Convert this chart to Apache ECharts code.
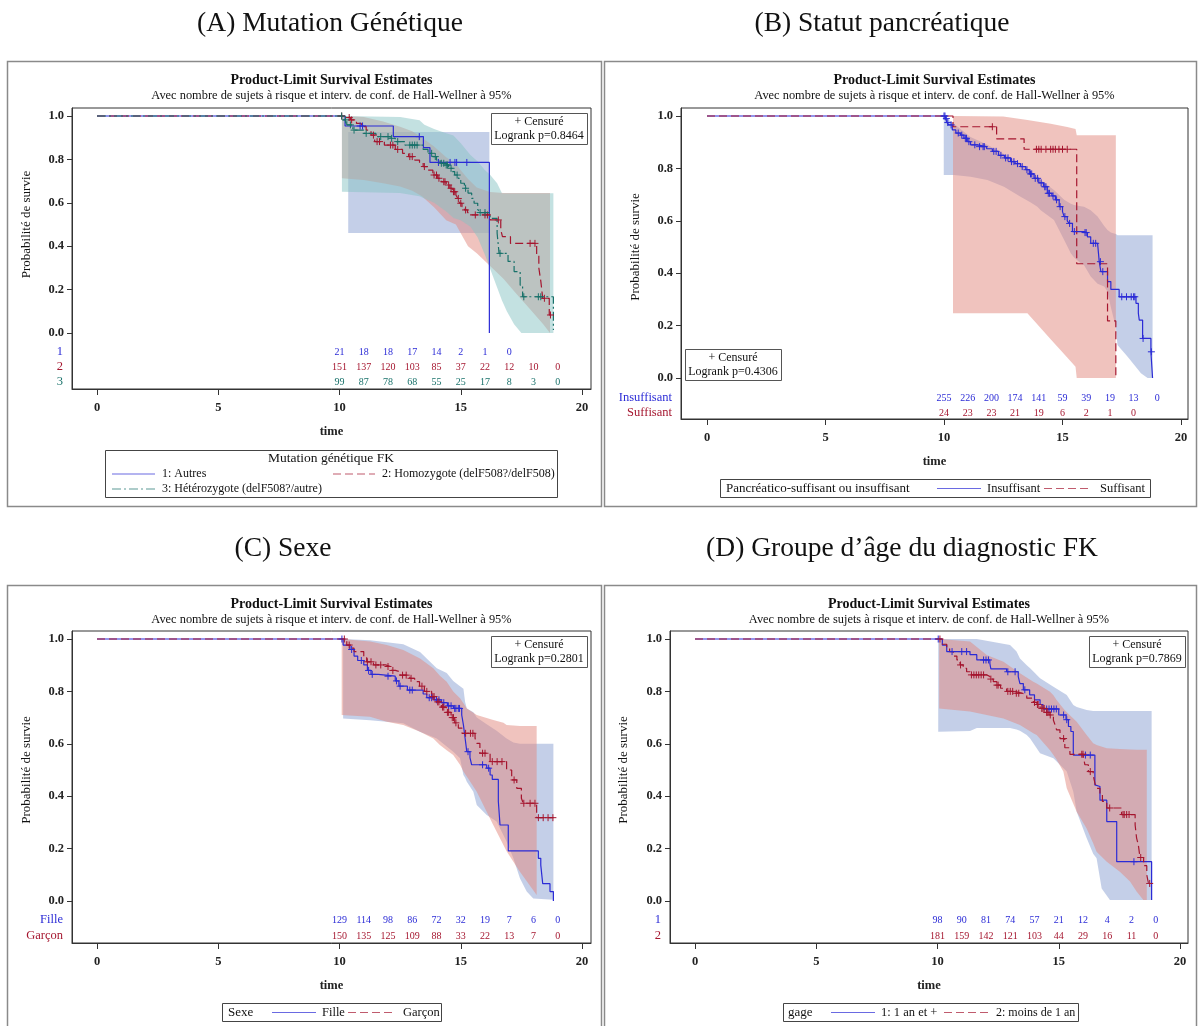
<!DOCTYPE html>
<html>
<head>
<meta charset="utf-8">
<script src="https://cdn.jsdelivr.net/npm/echarts@6/dist/echarts.min.js"></script>
<style>
  html, body { margin: 0; padding: 0; background: #ffffff; }
  #chart { width: 1198px; height: 1026px; }
</style>
</head>
<body>
<div id="chart"></div>
<script>
// ---------------------------------------------------------------------------
// Kaplan-Meier estimates, Hall-Wellner bands, censored times, numbers at risk
// curve points: [time, survival]  (value holds from time until the next point)
// band points:  [time, lower, upper]
// ---------------------------------------------------------------------------
const riskTimes = [10, 11, 12, 13, 14, 15, 16, 17, 18, 19];
const xTicks = [0, 5, 10, 15, 20];
const yTicks = [0, 0.2, 0.4, 0.6, 0.8, 1.0];

// (A) Mutation génétique FK
const kmAutres = [[0,1],[10.23,0.954],[12.22,0.905],[13.46,0.854],[13.73,0.786],[16.18,0]];
const kmHomozygote = [[0,1],[10.3,0.993],[10.45,0.982],[10.7,0.966],[10.9,0.951],[11.1,0.935],[11.3,0.912],[11.45,0.882],[11.85,0.866],[12.3,0.846],[12.6,0.828],[12.85,0.813],[13.1,0.797],[13.3,0.786],[13.45,0.767],[13.65,0.751],[13.85,0.728],[14.05,0.713],[14.2,0.697],[14.4,0.682],[14.55,0.667],[14.65,0.651],[14.8,0.636],[14.88,0.62],[14.95,0.598],[15.05,0.582],[15.15,0.567],[15.28,0.555],[15.38,0.544],[16.21,0.521],[16.65,0.475],[16.72,0.444],[17.05,0.413],[18.13,0.36],[18.22,0.30],[18.3,0.24],[18.38,0.16],[18.65,0.083],[18.82,0.083]];
const kmHeterozygote = [[0,1],[10.15,0.982],[10.3,0.959],[10.55,0.935],[11.0,0.92],[11.5,0.905],[12.05,0.897],[12.3,0.882],[12.7,0.866],[13.45,0.846],[13.65,0.828],[13.85,0.813],[14.0,0.797],[14.15,0.782],[14.35,0.774],[14.5,0.759],[14.65,0.744],[14.75,0.728],[14.9,0.713],[15.0,0.69],[15.15,0.667],[15.3,0.645],[15.45,0.62],[15.55,0.598],[15.7,0.57],[15.78,0.555],[16.21,0.528],[16.5,0.46],[16.58,0.367],[16.95,0.33],[17.2,0.283],[17.45,0.22],[17.55,0.167],[18.82,0.014]];
const bandAutres = [[10.36,0.461,0.926],[16.18,0.461,0.926]];
const bandHomozygote = [[10.1,0.713,1.0],[11.0,0.705,0.995],[11.8,0.69,0.975],[12.5,0.675,0.95],[13.0,0.655,0.93],[13.4,0.63,0.90],[13.9,0.58,0.86],[14.4,0.52,0.81],[14.8,0.50,0.78],[15.0,0.46,0.75],[15.3,0.40,0.71],[15.66,0.367,0.67],[16.2,0.31,0.65],[16.76,0.25,0.645],[17.3,0.18,0.645],[17.86,0.11,0.645],[18.4,0.04,0.645],[18.68,0.0,0.645]];
const bandHeterozygote = [[10.1,0.651,1.0],[12.5,0.645,0.995],[13.3,0.63,0.98],[13.5,0.62,0.96],[13.9,0.60,0.94],[14.4,0.56,0.92],[14.7,0.53,0.91],[15.0,0.52,0.875],[15.4,0.49,0.82],[15.7,0.44,0.79],[16.0,0.36,0.75],[16.2,0.30,0.73],[16.5,0.21,0.69],[16.7,0.15,0.644],[16.9,0.10,0.644],[17.2,0.04,0.644],[17.5,0.0,0.644],[18.82,0.0,0.644]];
const censAutres = [10.85, 10.95, 13.29, 14.08, 14.56, 14.76, 14.83, 15.25];
const censHomozygote = [10.09, 10.4, 10.5, 11.4, 11.55, 11.65, 12.1, 12.2, 12.4, 12.9, 13.0, 13.5, 13.9, 14.0, 14.1, 14.3, 14.35, 14.5, 14.6, 14.7, 14.75, 14.9, 15.0, 15.2, 15.6, 16.0, 16.1, 16.55, 17.86, 18.06, 18.45, 18.7];
const censHeterozygote = [10.09, 10.25, 10.45, 10.6, 11.1, 11.7, 12.0, 12.15, 12.4, 12.9, 13.0, 13.1, 13.2, 13.8, 13.95, 14.2, 14.3, 14.4, 14.45, 14.6, 14.85, 15.2, 15.8, 16.0, 16.62, 17.6, 18.2, 18.3];
const riskAutres = [21, 18, 18, 17, 14, 2, 1, 0];
const riskHomozygote = [151, 137, 120, 103, 85, 37, 22, 12, 10, 0];
const riskHeterozygote = [99, 87, 78, 68, 55, 25, 17, 8, 3, 0];

// (B) Pancréatico-suffisant ou insuffisant
const kmInsuffisant = [[0,1],[10.06,0.99],[10.13,0.975],[10.2,0.966],[10.35,0.947],[10.5,0.935],[10.7,0.927],[10.84,0.915],[11.0,0.902],[11.12,0.89],[11.4,0.883],[11.8,0.875],[12.04,0.865],[12.3,0.85],[12.55,0.84],[12.81,0.826],[13.0,0.818],[13.23,0.807],[13.45,0.795],[13.6,0.779],[13.8,0.762],[14.0,0.745],[14.2,0.73],[14.36,0.705],[14.55,0.695],[14.7,0.68],[14.86,0.654],[15.0,0.635],[15.07,0.616],[15.2,0.6],[15.28,0.59],[15.42,0.559],[15.91,0.555],[16.05,0.539],[16.19,0.514],[16.48,0.508],[16.55,0.444],[16.62,0.406],[16.9,0.368],[17.04,0.338],[17.39,0.31],[18.1,0.285],[18.2,0.247],[18.24,0.221],[18.38,0.151],[18.73,0.1],[18.8,0]];
const kmSuffisant = [[0,1],[10.38,0.959],[12.22,0.913],[13.38,0.873],[15.6,0.436],[16.9,0.218],[17.25,0]];
const bandInsuffisant = [[9.99,0.775,1.0],[10.42,0.775,0.97],[11.12,0.768,0.92],[11.83,0.756,0.89],[12.53,0.73,0.855],[13.23,0.692,0.82],[13.66,0.67,0.788],[13.94,0.654,0.77],[14.08,0.64,0.756],[14.64,0.603,0.718],[15.07,0.527,0.68],[15.35,0.476,0.665],[15.49,0.46,0.66],[15.77,0.438,0.656],[15.91,0.43,0.654],[16.19,0.387,0.64],[16.48,0.36,0.616],[16.76,0.349,0.58],[16.9,0.33,0.565],[17.04,0.27,0.555],[17.25,0.195,0.55],[17.32,0.126,0.545],[17.74,0.082,0.545],[18.03,0.05,0.545],[18.31,0.018,0.545],[18.59,0.0,0.545],[18.8,0.0,0.545]];
const bandSuffisant = [[10.38,0.247,1.0],[12.5,0.247,0.998],[13.52,0.247,0.985],[14.5,0.148,0.97],[15.2,0.078,0.958],[15.55,0.043,0.95],[15.6,0.0,0.927],[17.25,0.0,0.927]];
const censInsuffisant = [10.0, 10.04, 10.1, 10.16, 10.3, 10.6, 10.75, 10.9, 10.95, 11.05, 11.3, 11.5, 11.65, 11.7, 12.1, 12.2, 12.4, 12.6, 12.7, 12.85, 12.95, 13.1, 13.3, 13.5, 13.65, 13.7, 13.85, 13.95, 14.1, 14.25, 14.3, 14.4, 14.45, 14.6, 14.75, 14.9, 15.1, 15.3, 15.5, 15.95, 16.0, 16.3, 16.4, 16.6, 16.7, 17.5, 17.7, 17.9, 18.0, 18.05, 18.4, 18.75];
const censSuffisant = [12.04, 13.9, 14.0, 14.1, 14.3, 14.5, 14.6, 14.7, 14.85, 15.0, 15.2];
const riskInsuffisant = [255, 226, 200, 174, 141, 59, 39, 19, 13, 0];
const riskSuffisant = [24, 23, 23, 21, 19, 6, 2, 1, 0];

// (C) Sexe
const kmFille = [[0,1],[10.15,0.977],[10.43,0.96],[10.6,0.935],[10.75,0.918],[11.0,0.901],[11.15,0.88],[11.3,0.865],[11.6,0.858],[12.3,0.84],[12.45,0.82],[12.8,0.805],[13.45,0.79],[13.6,0.776],[13.9,0.768],[14.2,0.757],[14.45,0.745],[14.7,0.735],[15.04,0.71],[15.11,0.672],[15.18,0.621],[15.25,0.57],[15.38,0.547],[15.45,0.52],[16.07,0.507],[16.21,0.481],[16.3,0.464],[16.55,0.38],[16.62,0.29],[16.96,0.191],[18.2,0.163],[18.3,0.137],[18.38,0.066],[18.68,0.036],[18.82,0]];
const kmGarcon = [[0,1],[10.3,0.977],[10.5,0.965],[10.6,0.952],[11.0,0.93],[11.12,0.913],[11.4,0.901],[11.9,0.895],[12.1,0.88],[12.3,0.875],[12.5,0.862],[12.9,0.85],[13.1,0.837],[13.3,0.82],[13.5,0.80],[13.8,0.78],[14.0,0.76],[14.2,0.74],[14.4,0.72],[14.6,0.70],[14.75,0.68],[14.9,0.66],[15.05,0.64],[15.59,0.621],[15.66,0.602],[15.79,0.564],[16.21,0.532],[16.89,0.50],[17.1,0.462],[17.31,0.43],[17.5,0.392],[17.58,0.373],[18.13,0.318],[18.82,0.318]];
const bandFille = [[10.15,0.697,1.0],[11.26,0.69,0.995],[12.63,0.678,0.98],[13.32,0.646,0.95],[14.01,0.62,0.888],[14.42,0.59,0.87],[14.69,0.57,0.84],[14.97,0.545,0.82],[15.11,0.481,0.81],[15.18,0.47,0.76],[15.25,0.455,0.735],[15.52,0.417,0.72],[15.66,0.366,0.70],[16.07,0.328,0.675],[16.48,0.303,0.65],[16.89,0.227,0.62],[17.17,0.163,0.605],[17.44,0.087,0.60],[17.72,0.036,0.60],[17.99,0.01,0.60],[18.82,0.005,0.60]];
const bandGarcon = [[10.09,0.71,1.0],[11.26,0.703,0.99],[11.95,0.684,0.977],[12.63,0.672,0.958],[13.32,0.646,0.926],[13.87,0.62,0.888],[14.14,0.595,0.86],[14.42,0.575,0.837],[14.69,0.557,0.80],[14.97,0.52,0.774],[15.11,0.494,0.755],[15.25,0.475,0.735],[15.66,0.417,0.71],[16.34,0.29,0.691],[16.76,0.214,0.68],[16.89,0.19,0.672],[17.44,0.112,0.668],[18.13,0.023,0.668]];
const censFille = [10.1, 10.5, 10.9, 11.2, 11.35, 12.0, 12.35, 12.5, 12.9, 13.0, 13.7, 13.8, 14.0, 14.1, 14.3, 14.5, 14.6, 14.75, 14.8, 14.9, 14.95, 15.3, 15.9, 16.15];
const censGarcon = [10.2, 10.4, 11.15, 11.3, 11.5, 11.7, 12.0, 12.2, 12.6, 12.75, 12.95, 13.4, 13.6, 13.85, 13.9, 14.05, 14.1, 14.25, 14.3, 14.45, 14.5, 14.65, 14.7, 14.8, 15.2, 15.4, 15.5, 15.9, 16.0, 16.3, 16.5, 16.7, 17.2, 17.6, 17.86, 18.06, 18.2, 18.4, 18.6, 18.8];
const riskFille = [129, 114, 98, 86, 72, 32, 19, 7, 6, 0];
const riskGarcon = [150, 135, 125, 109, 88, 33, 22, 13, 7, 0];

// (D) gage : âge au diagnostic FK
const kmUnAnEtPlus = [[0,1],[10.2,0.977],[10.38,0.952],[11.34,0.94],[11.62,0.92],[12.16,0.906],[12.2,0.886],[12.85,0.875],[13.33,0.856],[13.4,0.83],[13.54,0.806],[13.8,0.787],[14.0,0.768],[14.23,0.75],[14.35,0.733],[15.0,0.71],[15.3,0.692],[15.4,0.666],[15.5,0.647],[15.6,0.557],[16.49,0.443],[16.56,0.437],[16.7,0.385],[16.98,0.303],[17.39,0.15],[18.83,0.004]];
const kmMoinsUnAn = [[0,1],[10.2,0.98],[10.38,0.966],[10.5,0.952],[10.65,0.935],[10.8,0.92],[10.93,0.901],[11.06,0.888],[11.2,0.875],[11.34,0.863],[12.03,0.857],[12.16,0.847],[12.3,0.837],[12.44,0.824],[12.6,0.812],[12.85,0.80],[13.2,0.793],[13.5,0.786],[13.68,0.774],[13.95,0.758],[14.1,0.75],[14.23,0.735],[14.43,0.72],[14.6,0.71],[14.78,0.69],[14.85,0.672],[14.91,0.653],[15.05,0.62],[15.25,0.585],[15.46,0.56],[16.01,0.552],[16.08,0.52],[16.22,0.494],[16.42,0.48],[16.49,0.45],[16.56,0.43],[16.7,0.405],[16.8,0.38],[16.98,0.355],[17.59,0.33],[18.15,0.29],[18.21,0.24],[18.28,0.215],[18.35,0.166],[18.5,0.135],[18.63,0.1],[18.7,0.067],[18.83,0.067]];
const bandUnAnEtPlus = [[10.03,0.646,1.0],[11.34,0.649,1.0],[11.62,0.66,1.0],[12.99,0.66,0.977],[13.26,0.655,0.952],[13.4,0.65,0.926],[13.68,0.634,0.9],[13.82,0.62,0.888],[14.23,0.564,0.85],[14.78,0.545,0.818],[15.33,0.494,0.786],[15.6,0.417,0.748],[15.74,0.341,0.74],[16.15,0.24,0.729],[16.42,0.18,0.725],[16.56,0.163,0.725],[16.77,0.048,0.725],[17.11,0.004,0.725],[18.83,0.004,0.725]];
const bandMoinsUnAn = [[10.07,0.735,1.0],[11.34,0.723,0.99],[12.03,0.71,0.939],[12.72,0.697,0.913],[13.4,0.672,0.869],[13.95,0.64,0.837],[14.09,0.634,0.83],[14.64,0.575,0.799],[14.78,0.557,0.785],[14.91,0.54,0.767],[15.19,0.494,0.735],[15.33,0.43,0.72],[15.74,0.341,0.684],[16.15,0.277,0.634],[16.42,0.22,0.602],[16.56,0.188,0.595],[16.98,0.15,0.583],[17.52,0.112,0.58],[17.94,0.074,0.578],[18.21,0.036,0.577],[18.49,0.004,0.577],[18.63,0.004,0.577]];
const censUnAnEtPlus = [10.03, 10.6, 11.0, 11.2, 11.9, 12.0, 12.1, 12.9, 13.2, 13.6, 14.5, 14.6, 14.7, 14.8, 14.9, 15.2, 15.33, 16.1, 16.3, 18.1];
const censMoinsUnAn = [10.1, 10.95, 11.4, 11.5, 11.6, 11.7, 11.8, 11.9, 12.2, 12.45, 12.5, 12.9, 13.0, 13.1, 13.25, 13.35, 14.0, 14.12, 14.15, 14.3, 14.35, 14.4, 14.5, 14.55, 14.65, 15.2, 15.95, 16.0, 16.3, 17.1, 17.65, 17.7, 17.8, 17.9, 18.38, 18.75];
const riskUnAnEtPlus = [98, 90, 81, 74, 57, 21, 12, 4, 2, 0];
const riskMoinsUnAn = [181, 159, 142, 121, 103, 44, 29, 16, 11, 0];

// ---------------------------------------------------------------------------
// styles
// ---------------------------------------------------------------------------
const FONT = '"Liberation Serif", "Times New Roman", serif';
const BLUE = '#2b2bd6';
const RED = '#a5162f';
const TEAL = '#18716a';
const FILL_BLUE = 'rgba(138,160,209,0.5)';
const FILL_RED = 'rgba(225,135,125,0.5)';
const FILL_TEAL = 'rgba(135,195,195,0.5)';
const DASH_RED = [8, 4];
const DASH_TEAL = [9, 3, 2, 3];

function survivalAt(curve, t) {
  let s = 1;
  for (const p of curve) { if (p[0] <= t) s = p[1]; }
  return s;
}

// panel layout (pixel frame of each plot box and where t=0/20, S=0/1 fall)
const panels = [
  {
    frame: { left: 72, top: 108, right: 591, bottom: 389 },
    xPx: [97, 582], yPx: [333, 116], rowPx: [352, 367, 382],
    groups: [
      { label: '1', curve: kmAutres, band: bandAutres, cens: censAutres, risk: riskAutres, color: BLUE, dash: 'solid', fill: FILL_BLUE },
      { label: '2', curve: kmHomozygote, band: bandHomozygote, cens: censHomozygote, risk: riskHomozygote, color: RED, dash: DASH_RED, fill: FILL_RED },
      { label: '3', curve: kmHeterozygote, band: bandHeterozygote, cens: censHeterozygote, risk: riskHeterozygote, color: TEAL, dash: DASH_TEAL, fill: FILL_TEAL }
    ]
  },
  {
    frame: { left: 681, top: 108, right: 1188, bottom: 419 },
    xPx: [707, 1181], yPx: [378, 116], rowPx: [398, 413],
    groups: [
      { label: 'Insuffisant', curve: kmInsuffisant, band: bandInsuffisant, cens: censInsuffisant, risk: riskInsuffisant, color: BLUE, dash: 'solid', fill: FILL_BLUE },
      { label: 'Suffisant', curve: kmSuffisant, band: bandSuffisant, cens: censSuffisant, risk: riskSuffisant, color: RED, dash: DASH_RED, fill: FILL_RED }
    ]
  },
  {
    frame: { left: 72, top: 631, right: 591, bottom: 943 },
    xPx: [97, 582], yPx: [901, 639], rowPx: [920, 936],
    groups: [
      { label: 'Fille', curve: kmFille, band: bandFille, cens: censFille, risk: riskFille, color: BLUE, dash: 'solid', fill: FILL_BLUE },
      { label: 'Garçon', curve: kmGarcon, band: bandGarcon, cens: censGarcon, risk: riskGarcon, color: RED, dash: DASH_RED, fill: FILL_RED }
    ]
  },
  {
    frame: { left: 670, top: 631, right: 1188, bottom: 943 },
    xPx: [695, 1180], yPx: [901, 639], rowPx: [920, 936],
    groups: [
      { label: '1', curve: kmUnAnEtPlus, band: bandUnAnEtPlus, cens: censUnAnEtPlus, risk: riskUnAnEtPlus, color: BLUE, dash: 'solid', fill: FILL_BLUE },
      { label: '2', curve: kmMoinsUnAn, band: bandMoinsUnAn, cens: censMoinsUnAn, risk: riskMoinsUnAn, color: RED, dash: DASH_RED, fill: FILL_RED }
    ]
  }
];

const grid = [], xAxis = [], yAxis = [], series = [];

panels.forEach((p, i) => {
  const f = p.frame;
  const sx = (p.xPx[1] - p.xPx[0]) / 20;
  const sy = p.yPx[0] - p.yPx[1];
  const xMin = (f.left - p.xPx[0]) / sx, xMax = (f.right - p.xPx[0]) / sx;
  const yMax = (p.yPx[0] - f.top) / sy, yMin = (p.yPx[0] - f.bottom) / sy;
  const rowVals = p.rowPx.map(r => (p.yPx[0] - r) / sy);

  grid.push({ left: f.left, top: f.top, width: f.right - f.left, height: f.bottom - f.top,
    show: true, borderColor: '#333', borderWidth: 1, backgroundColor: 'transparent' });

  xAxis.push({
    gridIndex: i, type: 'value', min: xMin, max: xMax,
    axisLine: { show: true, onZero: false, lineStyle: { color: '#333', width: 1 } },
    axisTick: { show: true, customValues: xTicks, length: 6, lineStyle: { color: '#333' } },
    axisLabel: { customValues: xTicks, margin: 12, fontFamily: FONT, fontSize: 12.5, fontWeight: 'bold', color: '#222' },
    splitLine: { show: false },
    name: 'time', nameLocation: 'middle', nameGap: 36,
    nameTextStyle: { fontFamily: FONT, fontSize: 12.5, fontWeight: 'bold', color: '#222' }
  });
  yAxis.push({
    gridIndex: i, type: 'value', min: yMin, max: yMax,
    axisLine: { show: true, onZero: false, lineStyle: { color: '#333', width: 1 } },
    axisTick: { show: true, customValues: yTicks, length: 5, lineStyle: { color: '#333' } },
    axisLabel: { customValues: yTicks, margin: 8, fontFamily: FONT, fontSize: 12.5, fontWeight: 'bold', color: '#222',
      formatter: v => Number(v).toFixed(1) },
    splitLine: { show: false }
  });

  // confidence bands
  p.groups.forEach(g => {
    series.push({
      type: 'custom', xAxisIndex: i, yAxisIndex: i, silent: true, z: 1,
      data: [[g.band[0][0], g.band[0][1]]],
      renderItem: (params, api) => {
        const up = g.band.map(b => api.coord([b[0], b[2]]));
        const lo = g.band.slice().reverse().map(b => api.coord([b[0], b[1]]));
        return { type: 'polygon', shape: { points: up.concat(lo) }, style: { fill: g.fill } };
      }
    });
  });

  // survival curves and censored observations
  p.groups.forEach(g => {
    series.push({
      type: 'line', xAxisIndex: i, yAxisIndex: i, data: g.curve, step: 'end', symbol: 'none',
      silent: true, z: 3, lineStyle: { color: g.color, width: 1.2, type: g.dash }
    });
    series.push({
      type: 'custom', xAxisIndex: i, yAxisIndex: i, silent: true, z: 4,
      data: g.cens.map(t => [t, survivalAt(g.curve, t)]),
      renderItem: (params, api) => {
        const c = api.coord([api.value(0), api.value(1)]);
        const h = 3.5;
        return { type: 'group', children: [
          { type: 'line', shape: { x1: c[0] - h, y1: c[1], x2: c[0] + h, y2: c[1] }, style: { stroke: g.color, lineWidth: 1 } },
          { type: 'line', shape: { x1: c[0], y1: c[1] - h, x2: c[0], y2: c[1] + h }, style: { stroke: g.color, lineWidth: 1 } }
        ] };
      }
    });
  });

  // numbers at risk and row labels
  p.groups.forEach((g, gi) => {
    series.push({
      type: 'custom', xAxisIndex: i, yAxisIndex: i, silent: true, z: 5,
      data: g.risk.map((n, k) => [riskTimes[k], rowVals[gi], n]),
      renderItem: (params, api) => {
        const c = api.coord([api.value(0), api.value(1)]);
        return { type: 'text', x: c[0], y: c[1], style: { text: String(api.value(2)), fill: g.color,
          fontSize: 10, fontFamily: FONT, align: 'center', verticalAlign: 'middle' } };
      }
    });
    series.push({
      type: 'custom', xAxisIndex: i, yAxisIndex: i, silent: true, z: 5,
      data: [[xMin, rowVals[gi]]],
      renderItem: (params, api) => {
        const c = api.coord([api.value(0), api.value(1)]);
        return { type: 'text', x: c[0] - 9, y: c[1], style: { text: g.label, fill: g.color,
          fontSize: 12.5, fontFamily: FONT, align: 'right', verticalAlign: 'middle' } };
      }
    });
  });
});

// ---------------------------------------------------------------------------
// titles, frames, legends, inset boxes
// ---------------------------------------------------------------------------
function txt(x, y, text, size, opts) {
  opts = opts || {};
  const al = opts.align || 'center';
  return { type: 'text', x: x, y: y, z: 100, silent: true, rotation: opts.rotation || 0,
    style: { text: text, fontSize: size, fontFamily: FONT, fontWeight: opts.weight || 'normal', fill: opts.color || '#111',
      align: al, verticalAlign: 'middle', textAlign: al, textVerticalAlign: 'middle' } };
}
function box(x, y, w, h, stroke, lw) {
  return { type: 'rect', z: 90, silent: true, shape: { x: x, y: y, width: w, height: h },
    style: { fill: 'none', stroke: stroke, lineWidth: lw || 1 } };
}
function seg(x1, y1, x2, y2, stroke, dash) {
  return { type: 'line', z: 100, silent: true, shape: { x1: x1, y1: y1, x2: x2, y2: y2 },
    style: { stroke: stroke, lineWidth: 1.2, lineDash: dash || null, opacity: 0.7 } };
}

const HEAD = 'Product-Limit Survival Estimates';
const SUB = 'Avec nombre de sujets à risque et interv. de conf. de Hall-Wellner à 95%';
const YT = 'Probabilité de survie';

const graphic = [
  // panel frames
  box(7.5, 61.5, 594, 445, '#8a8a8a', 1.5),
  box(604.5, 61.5, 592, 445, '#8a8a8a', 1.5),
  box(7.5, 585.5, 594, 450, '#8a8a8a', 1.5),
  box(604.5, 585.5, 592, 450, '#8a8a8a', 1.5),

  // panel titles
  txt(330, 24, '(A) Mutation Génétique', 27.5),
  txt(882, 24, '(B) Statut pancréatique', 27.5),
  txt(283, 549, '(C) Sexe', 27.5),
  txt(902, 549, '(D) Groupe d\u2019âge du diagnostic FK', 27.5),

  // plot headers
  txt(331.5, 80, HEAD, 14, { weight: 'bold' }), txt(331.5, 96, SUB, 12.4),
  txt(934.5, 80, HEAD, 14, { weight: 'bold' }), txt(934.5, 96, SUB, 12.4),
  txt(331.5, 604, HEAD, 14, { weight: 'bold' }), txt(331.5, 620, SUB, 12.4),
  txt(929, 604, HEAD, 14, { weight: 'bold' }), txt(929, 620, SUB, 12.4),

  // y axis titles
  txt(27, 224.5, YT, 13, { rotation: Math.PI / 2 }),
  txt(636, 247, YT, 13, { rotation: Math.PI / 2 }),
  txt(27, 770, YT, 13, { rotation: Math.PI / 2 }),
  txt(624, 770, YT, 13, { rotation: Math.PI / 2 }),

  // inset boxes
  box(491.5, 113.5, 96, 31, '#555'), txt(539, 121.5, '+ Censuré', 12), txt(539, 136, 'Logrank p=0.8464', 12),
  box(685.5, 349.5, 96, 31, '#555'), txt(733, 357.5, '+ Censuré', 12), txt(733, 372, 'Logrank p=0.4306', 12),
  box(491.5, 636.5, 96, 31, '#555'), txt(539, 644.5, '+ Censuré', 12), txt(539, 659, 'Logrank p=0.2801', 12),
  box(1089.5, 636.5, 96, 31, '#555'), txt(1137, 644.5, '+ Censuré', 12), txt(1137, 659, 'Logrank p=0.7869', 12),

  // legend (A)
  box(105.5, 450.5, 452, 47, '#444'),
  txt(331, 458.5, 'Mutation génétique FK', 13.5),
  seg(112, 474, 155, 474, BLUE), txt(162, 474, '1: Autres', 12, { align: 'left' }),
  seg(333, 474, 375, 474, RED, DASH_RED), txt(382, 474, '2: Homozygote (delF508?/delF508)', 12, { align: 'left' }),
  seg(112, 489, 155, 489, TEAL, DASH_TEAL), txt(162, 489, '3: Hétérozygote (delF508?/autre)', 12, { align: 'left' }),

  // legend (B)
  box(720.5, 479.5, 430, 18, '#444'),
  txt(726, 488.5, 'Pancréatico-suffisant ou insuffisant', 13, { align: 'left' }),
  seg(937, 488.5, 981, 488.5, BLUE), txt(987, 488.5, 'Insuffisant', 12.5, { align: 'left' }),
  seg(1044, 488.5, 1092, 488.5, RED, DASH_RED), txt(1100, 488.5, 'Suffisant', 12.5, { align: 'left' }),

  // legend (C)
  box(222.5, 1003.5, 219, 18, '#444'),
  txt(228, 1012.5, 'Sexe', 13, { align: 'left' }),
  seg(272, 1012.5, 316, 1012.5, BLUE), txt(322, 1012.5, 'Fille', 12.5, { align: 'left' }),
  seg(348, 1012.5, 394, 1012.5, RED, DASH_RED), txt(403, 1012.5, 'Garçon', 12.5, { align: 'left' }),

  // legend (D)
  box(783.5, 1003.5, 295, 18, '#444'),
  txt(788, 1012.5, 'gage', 13, { align: 'left' }),
  seg(831, 1012.5, 875, 1012.5, BLUE), txt(881, 1012.5, '1: 1 an et +', 12.5, { align: 'left' }),
  seg(944, 1012.5, 990, 1012.5, RED, DASH_RED), txt(996, 1012.5, '2: moins de 1 an', 12, { align: 'left' })
];

const chart = echarts.init(document.getElementById('chart'), null, { renderer: 'canvas' });
chart.setOption({
  animation: false,
  backgroundColor: '#ffffff',
  textStyle: { fontFamily: FONT },
  grid: grid,
  xAxis: xAxis,
  yAxis: yAxis,
  series: series,
  graphic: graphic
});
</script>
</body>
</html>
